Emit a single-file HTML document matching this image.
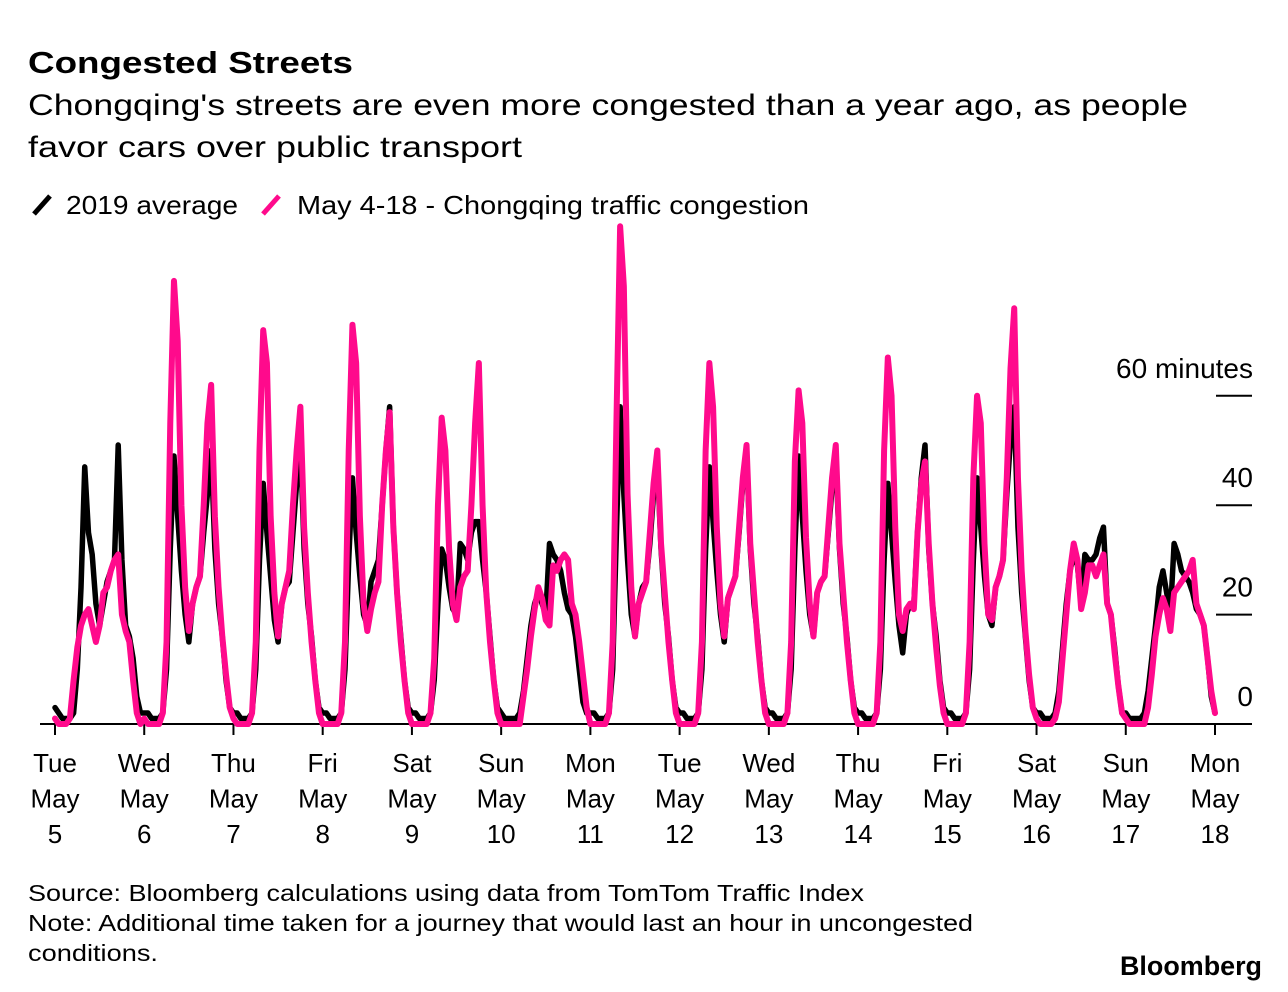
<!DOCTYPE html>
<html><head><meta charset="utf-8"><style>
html,body{margin:0;padding:0;background:#fff;}
svg{display:block;font-family:"Liberation Sans",sans-serif;}
</style></head><body>
<svg id="chart" width="1288" height="992" viewBox="0 0 1288 992" xmlns="http://www.w3.org/2000/svg">
<text x="28" y="73" font-size="31" font-weight="bold" textLength="325" lengthAdjust="spacingAndGlyphs" fill="#000">Congested Streets</text>
<text x="28" y="115" font-size="30" textLength="1160" lengthAdjust="spacingAndGlyphs" fill="#000">Chongqing's streets are even more congested than a year ago, as people</text>
<text x="28" y="157" font-size="30" textLength="494" lengthAdjust="spacingAndGlyphs" fill="#000">favor cars over public transport</text>
<g>
<line x1="34" y1="214" x2="50" y2="196" stroke="#000" stroke-width="5"/>
<text x="66" y="214" font-size="26" textLength="172" lengthAdjust="spacingAndGlyphs">2019 average</text>
<line x1="263" y1="214" x2="279" y2="196" stroke="#ff0a8c" stroke-width="5"/>
<text x="297" y="214" font-size="26" textLength="512" lengthAdjust="spacingAndGlyphs">May 4-18 - Chongqing traffic congestion</text>
</g>
<g id="axes"></g>
<g id="series"></g>
<text x="28" y="901" font-size="23" textLength="836" lengthAdjust="spacingAndGlyphs">Source: Bloomberg calculations using data from TomTom Traffic Index</text>
<text x="28" y="931" font-size="23" textLength="945" lengthAdjust="spacingAndGlyphs">Note: Additional time taken for a journey that would last an hour in uncongested</text>
<text x="28" y="961" font-size="23" textLength="130" lengthAdjust="spacingAndGlyphs">conditions.</text>
<text x="1120" y="975" font-size="27" font-weight="bold" textLength="142" lengthAdjust="spacingAndGlyphs">Bloomberg</text>
</svg>
<script>
const dayLabels = [["Tue","May","5"],["Wed","May","6"],["Thu","May","7"],["Fri","May","8"],["Sat","May","9"],["Sun","May","10"],["Mon","May","11"],["Tue","May","12"],["Wed","May","13"],["Thu","May","14"],["Fri","May","15"],["Sat","May","16"],["Sun","May","17"],["Mon","May","18"]];
const yTicks = [0,20,40,60];
const yTickLabels = ["0","20","40","60 minutes"];
const avg2019 = [
3,2,1,1,1,2,10,25,47,35,31,22,18,22,26,28,30,51,30,18,16,12,5,2,
2,2,1,1,1,2,10,32,49,38,28,20,15,22,25,27,35,42,50,32,22,16,8,3,
2,2,1,1,1,2,10,30,44,35,27,19,15,22,25,26,35,44,52,32,22,16,8,3,
2,2,1,1,1,2,10,30,45,35,27,20,18,26,28,30,40,50,58,36,24,16,8,3,
2,2,1,1,1,2,8,22,32,30,25,21,20,33,32,30,35,37,37,30,24,16,8,3,
2,1,1,1,1,2,6,12,18,22,24,22,20,33,31,30,28,24,21,20,16,10,4,2,
2,2,1,1,1,2,10,35,58,42,30,20,16,22,25,26,33,42,48,32,22,16,8,3,
2,2,1,1,1,2,10,32,47,37,28,20,15,23,25,27,35,44,50,32,22,16,8,3,
2,2,1,1,1,2,10,32,49,38,28,20,16,24,26,27,35,43,49,32,22,16,8,3,
2,2,1,1,1,2,10,30,44,35,26,18,13,20,22,22,35,45,51,32,22,16,8,3,
2,2,1,1,1,2,10,30,45,36,27,20,18,25,27,30,42,52,58,36,24,16,8,3,
2,2,1,1,1,2,6,14,22,28,31,29,22,31,30,30,31,34,36,22,20,14,7,2,
2,1,1,1,1,2,6,12,18,25,28,24,20,33,31,28,27,26,24,21,20,18,12,5,
2];
const may2020 = [
1,0,0,0,1,8,14,18,20,21,18,15,18,24,25,28,30,31,20,17,15,8,2,0,
1,0,0,0,0,2,15,55,81,70,40,25,17,22,25,27,40,55,62,38,25,16,9,3,
1,0,0,0,0,2,15,50,72,66,38,24,16,22,25,28,40,50,58,36,24,15,8,2,
0,0,0,0,0,2,15,50,73,66,38,22,17,21,24,26,40,50,57,36,24,15,8,2,
0,0,0,0,0,2,12,40,56,50,32,22,19,25,27,28,40,55,66,40,24,15,8,2,
0,0,0,0,0,0,5,10,16,21,25,23,19,18,29,28,30,31,30,22,20,15,9,3,
0,0,0,0,0,2,15,55,91,80,42,25,16,22,24,26,35,44,50,33,24,15,8,2,
0,0,0,0,0,2,15,50,66,58,36,22,16,23,25,27,36,45,51,33,24,15,8,2,
0,0,0,0,0,2,15,48,61,55,34,22,16,24,26,27,36,45,51,33,24,15,8,2,
0,0,0,0,0,2,15,50,67,60,36,20,17,21,22,21,35,44,48,33,22,14,7,2,
0,0,0,0,0,2,15,45,60,55,33,20,19,25,27,30,45,65,76,45,28,17,9,3,
1,0,0,0,0,1,4,12,20,28,33,30,21,24,29,29,27,29,31,22,20,13,7,2,
1,0,0,0,0,0,3,9,16,20,23,21,17,24,25,26,27,28,30,22,20,18,12,6,
2];

const NS = "http://www.w3.org/2000/svg";
const X0 = 55, X1 = 1215, Y0 = 724, PX_PER_MIN = 5.47;
const totalHours = (dayLabels.length - 1) * 24;
function xScale(h){ return X0 + h * (X1 - X0) / totalHours; }
function yScale(v){ return Y0 - v * PX_PER_MIN; }
function mk(tag, attrs, parent){ const e = document.createElementNS(NS, tag); for (const k in attrs) e.setAttribute(k, attrs[k]); parent.appendChild(e); return e; }

const axes = document.getElementById('axes');
const baseline = mk('line', {x1: 40, x2: 1252, y1: Y0, y2: Y0, stroke: '#000', 'stroke-width': 2}, axes);


dayLabels.forEach((lab, i) => {
  const x = xScale(i * 24);
  const t = mk('line', {x1: x, x2: x, y1: Y0, y2: Y0 + 11, stroke: '#000', 'stroke-width': 2}, axes);
  
  
  lab.forEach((s, j) => {
    const tx = mk('text', {x: x, y: 772 + j * 35.5, 'font-size': 26, 'text-anchor': 'middle'}, axes);
    tx.textContent = s;
    
    
  });
});
yTicks.forEach((v, i) => {
  const y = yScale(v);
  if (v > 0) {
    const l = mk('line', {x1: 1216, x2: 1252, y1: y, y2: y, stroke: '#000', 'stroke-width': 2}, axes);
    
    
  }
  const tx = mk('text', {x: 1253, y: y - 18, 'font-size': 28, 'text-anchor': 'end'}, axes);
  tx.textContent = yTickLabels[i];
  
  
});

const series = document.getElementById('series');
function linePath(vals){ return vals.map((v, i) => (i ? 'L' : 'M') + xScale(i).toFixed(2) + ',' + yScale(v).toFixed(2)).join(''); }
const pb = mk('path', {d: linePath(avg2019), fill: 'none', stroke: '#000', 'stroke-width': 5.5, 'stroke-linejoin': 'round', 'stroke-linecap': 'round'}, series);


const pp = mk('path', {d: linePath(may2020), fill: 'none', stroke: '#ff0a8c', 'stroke-width': 6, 'stroke-linejoin': 'round', 'stroke-linecap': 'round'}, series);


</script>
</body></html>
